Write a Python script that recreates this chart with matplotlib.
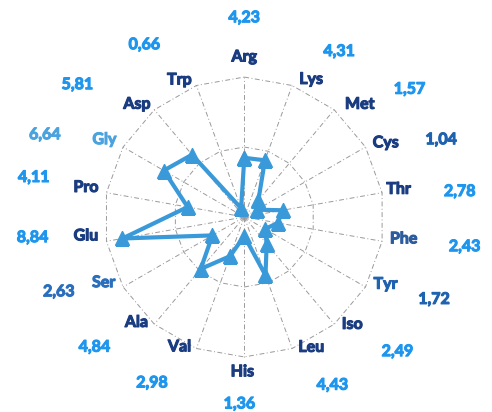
import numpy as np
import matplotlib
matplotlib.use("Agg")
import matplotlib.pyplot as plt
import matplotlib.patheffects as pe

categories = ["Arg", "Lys", "Met", "Cys", "Thr", "Phe", "Tyr", "Iso", "Leu",
              "His", "Val", "Ala", "Ser", "Glu", "Pro", "Gly", "Asp", "Trp"]
values = [4.23, 4.31, 1.57, 1.04, 2.78, 2.43, 1.72, 2.49, 4.43,
          1.36, 2.98, 4.84, 2.63, 8.84, 4.11, 6.64, 5.81, 0.66]
value_labels = ["4,23", "4,31", "1,57", "1,04", "2,78", "2,43", "1,72", "2,49", "4,43",
                "1,36", "2,98", "4,84", "2,63", "8,84", "4,11", "6,64", "5,81", "0,66"]
grid_levels = [5, 10]

# label placement (angle in degrees clockwise from top, radius in data units)
cat_pos = [(0, 11.4), (26, 10.9), (45.8, 11.5), (62.5, 11.4), (80, 11.2), (98, 11.5),
           (115.6, 11.2), (135, 10.9), (152.9, 10.5), (180.7, 11.1), (206.4, 10.4),
           (225.5, 10.8), (244.8, 11.1), (263, 11.4), (280.4, 11.5), (298.8, 11.4),
           (316.3, 11.1), (334.6, 10.8)]
val_pos = [(0, 14.2), (29.9, 13.6), (52.4, 14.9), (68.7, 15.1), (83.4, 15.5), (97.8, 15.9),
           (113.6, 14.8), (131.4, 14.6), (152.4, 13.6), (181.5, 13.4), (209, 13.6),
           (228.9, 14.2), (247.9, 14.3), (264.3, 15.2), (280.5, 15.3), (292.3, 15.4),
           (308.3, 15.2), (329.8, 14.2)]

NAVY = "#1a3c80"
LIGHT = "#1e96ee"
cat_colors = [NAVY] * 18
cat_colors[categories.index("Gly")] = "#4aa3df"
cat_colors[categories.index("Ser")] = "#2a6fbd"
cat_colors[categories.index("Phe")] = "#2c5c9e"
cat_colors[categories.index("Tyr")] = "#1f62b0"
val_colors = [LIGHT] * 18
val_colors[categories.index("Ser")] = "#2a6fbd"
val_colors[categories.index("Tyr")] = "#1f62b0"
val_colors[categories.index("Cys")] = "#1f62b0"
val_colors[categories.index("Gly")] = "#4aa3df"

plt.rcParams['font.family'] = ['Lato', 'DejaVu Sans']

fig = plt.figure(figsize=(4.92, 4.12), dpi=100)
ax = fig.add_axes([0.0, 0.0, 1.0, 1.0], projection='polar')
R = 10
n = len(categories)
angles = np.arange(n) * 2 * np.pi / n
ax.set_theta_zero_location('N')
ax.set_theta_direction(-1)
ax.set_ylim(0, 14.72)
ax.set_position([-0.0035, -0.0267, 1.0, 1.0])
ax.axis('off')

grid_style = dict(color="#9a9a9a", lw=0.7, linestyle=(0, (5, 2.5, 1, 2.5)), zorder=1)
for lev in grid_levels:
    a = np.append(angles, angles[0])
    ax.plot(a, [lev] * len(a), **grid_style)
for a in angles:
    ax.plot([a, a], [0, R], **grid_style)

va = np.append(angles, angles[0])
vv = np.append(values, values[0])
ax.plot(va, vv, color="#3a9ad9", lw=3.0, marker='^', markersize=9.5,
        markerfacecolor="#3a9ad9", markeredgecolor="#3a9ad9", zorder=3,
        solid_joinstyle='miter')

for i in range(n):
    th, r = cat_pos[i]
    ax.text(np.deg2rad(th), r, categories[i], color=cat_colors[i], fontsize=11.5,
            fontweight='bold', ha='center', va='center', clip_on=False,
            path_effects=[pe.withStroke(linewidth=0.8, foreground=cat_colors[i])])
    th, r = val_pos[i]
    ax.text(np.deg2rad(th), r, value_labels[i], color=val_colors[i], fontsize=11.5,
            fontweight='bold', ha='center', va='center', clip_on=False,
            path_effects=[pe.withStroke(linewidth=0.8, foreground=val_colors[i])])

fig.savefig("out.png", dpi=100)
